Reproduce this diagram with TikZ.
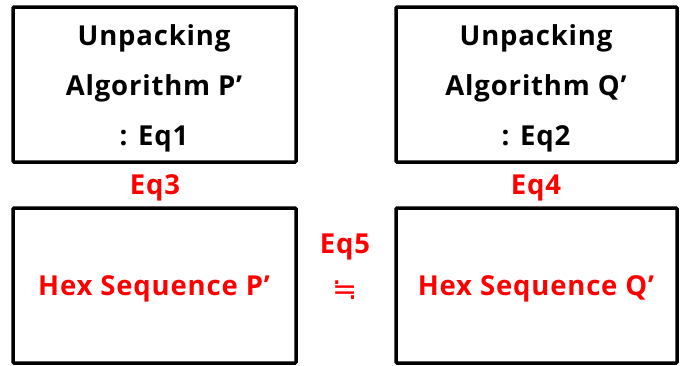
\documentclass[tikz,border=0pt]{standalone}
\usepackage{fontspec}
\setmainfont[LetterSpace=3]{Open Sans}
\newfontfamily\symfont{DejaVu Sans}
\begin{document}
\begin{tikzpicture}[x=1pt,y=-1pt,
  boxstyle/.style={draw=black,line width=3.5pt,rounded corners=1pt},
  blacktxt/.style={font=\fontsize{27.5}{30}\selectfont\bfseries,text=black,inner sep=0pt},
  redtxt/.style={font=\fontsize{27.5}{30}\selectfont\bfseries,text=red,inner sep=0pt}]
\useasboundingbox (0,0) rectangle (684,365);
\draw[boxstyle] (13,7) rectangle (296,162);
\draw[boxstyle] (396,7) rectangle (677,162);
\draw[boxstyle] (13,208) rectangle (296,363);
\draw[boxstyle] (396,208) rectangle (677,363);
\node[blacktxt] (u1) at (154,38) {Unpacking};
\node[blacktxt] (a1) at (154,88) {Algorithm P’};
\node[blacktxt] (e1) at (154,139) {: Eq1};
\node[blacktxt] (u2) at (536,38) {Unpacking};
\node[blacktxt] (a2) at (536,88) {Algorithm Q’};
\node[blacktxt] (e2) at (536,139) {: Eq2};
\node[redtxt] (eq3) at (155,188) {Eq3};
\node[redtxt] (eq4) at (536,188) {Eq4};
\node[redtxt] (h1) at (154,289) {Hex Sequence P’};
\node[redtxt] (h2) at (536,289) {Hex Sequence Q’};
\node[redtxt] (eq5) at (345,247) {Eq5};
\node[text=red,inner sep=0pt,font=\symfont\fontsize{30}{32}\selectfont] (approx) at (345,290) {≒};
\end{tikzpicture}
\end{document}
